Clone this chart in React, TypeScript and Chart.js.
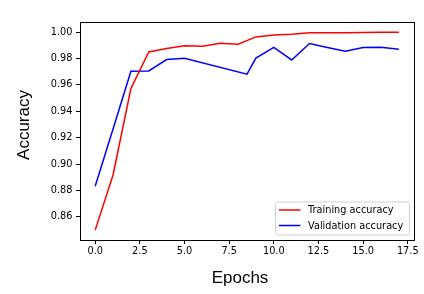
import { useEffect, useRef } from 'react';
import { Chart, registerables } from 'chart.js';

Chart.register(...registerables);

const epochs = [0, 1, 2, 3, 4, 5, 6, 7, 8, 9, 10, 11, 12, 13, 14, 15, 16, 17];
const trainAcc = [0.8499, 0.8917, 0.9572, 0.985, 0.9876, 0.9896, 0.9894, 0.9916, 0.9909, 0.9964, 0.9979, 0.9984, 0.9995, 0.9995, 0.9996, 0.9998, 0.9999, 0.9999];
const valEpochs = [0, 1, 2, 3, 4, 5, 8.5, 9, 10, 11, 12, 13, 14, 15, 16, 17];
const valAcc = [0.8831, 0.9266, 0.9704, 0.9706, 0.9792, 0.9802, 0.9681, 0.9803, 0.9884, 0.9789, 0.9914, 0.9884, 0.9855, 0.9884, 0.9886, 0.9871];
const xTicks = [0, 2.5, 5, 7.5, 10, 12.5, 15, 17.5];
const yTicks = [0.86, 0.88, 0.9, 0.92, 0.94, 0.96, 0.98, 1.0];
const seriesLabels = ['Training accuracy', 'Validation accuracy'];
const seriesColors = ['#ff0000', '#0000ff'];
const xTitle = 'Epochs';
const yTitle = 'Accuracy';

const TICK_FONT = { family: 'DejaVu Sans', size: 9.75 };

const decorPlugin = {
  id: 'decor',
  afterDatasetsDraw(chart: any) {
    const { ctx, chartArea: a } = chart;
    ctx.save();
    // frame
    ctx.strokeStyle = '#000';
    ctx.lineWidth = 1;
    ctx.strokeRect(a.left + 0.5, a.top + 0.5, a.right - a.left, a.bottom - a.top);

    // legend
    const bw = 134, bh = 33;
    const bx = a.right - 138.5, by = a.bottom - 38;
    const r = 2.5;
    ctx.beginPath();
    ctx.moveTo(bx + r, by);
    ctx.lineTo(bx + bw - r, by);
    ctx.quadraticCurveTo(bx + bw, by, bx + bw, by + r);
    ctx.lineTo(bx + bw, by + bh - r);
    ctx.quadraticCurveTo(bx + bw, by + bh, bx + bw - r, by + bh);
    ctx.lineTo(bx + r, by + bh);
    ctx.quadraticCurveTo(bx, by + bh, bx, by + bh - r);
    ctx.lineTo(bx, by + r);
    ctx.quadraticCurveTo(bx, by, bx + r, by);
    ctx.closePath();
    ctx.fillStyle = 'rgba(255,255,255,0.8)';
    ctx.fill();
    ctx.strokeStyle = '#d0d0d0';
    ctx.lineWidth = 1;
    ctx.stroke();

    ctx.font = `${TICK_FONT.size}px ${TICK_FONT.family}`;
    ctx.textBaseline = 'middle';
    ctx.textAlign = 'left';
    seriesLabels.forEach((lab, i) => {
      const ly = by + 8 + i * 15.5;
      ctx.strokeStyle = seriesColors[i];
      ctx.lineWidth = 1.5;
      ctx.beginPath();
      ctx.moveTo(bx + 3.5, ly);
      ctx.lineTo(bx + 25, ly);
      ctx.stroke();
      ctx.fillStyle = '#000';
      ctx.fillText(lab, bx + 32.5, ly + 0.5);
    });

    // axis titles
    ctx.fillStyle = '#000';
    ctx.font = '17px "Liberation Sans"';
    ctx.textAlign = 'center';
    ctx.textBaseline = 'alphabetic';
    ctx.fillText(xTitle, 240, 283);
    ctx.translate(29, 125);
    ctx.rotate(-Math.PI / 2);
    ctx.fillText(yTitle, 0, 0);
    ctx.restore();
  },
};

export default function App() {
  const ref = useRef<HTMLCanvasElement>(null);
  useEffect(() => {
    document.body.style.margin = '0';
    const chart = new Chart(ref.current!, {
      type: 'line',
      data: {
        datasets: [
          {
            label: seriesLabels[0],
            data: epochs.map((e, i) => ({ x: e, y: trainAcc[i] })),
            borderColor: seriesColors[0],
            borderWidth: 1.5,
            pointRadius: 0,
            tension: 0,
            fill: false,
          },
          {
            label: seriesLabels[1],
            data: valEpochs.map((e, i) => ({ x: e, y: valAcc[i] })),
            borderColor: seriesColors[1],
            borderWidth: 1.5,
            pointRadius: 0,
            tension: 0,
            fill: false,
          },
        ],
      },
      options: {
        responsive: false,
        animation: false,
        layout: { padding: { left: 0, top: 22, right: 10, bottom: 0 } },
        plugins: { legend: { display: false }, tooltip: { enabled: false } },
        scales: {
          x: {
            type: 'linear',
            min: -0.85,
            max: 17.85,
            afterFit: (s: any) => { s.height = 54; },
            afterBuildTicks: (s: any) => { s.ticks = xTicks.map((v) => ({ value: v })); },
            ticks: {
              font: TICK_FONT,
              color: '#000',
              padding: 2,
              maxRotation: 0,
              autoSkip: false,
              callback: (v: any) => Number(v).toFixed(1),
            },
            grid: { drawOnChartArea: false, drawTicks: true, tickLength: 4, color: '#000', lineWidth: 1 },
            border: { display: false },
          },
          y: {
            type: 'linear',
            min: 0.8424,
            max: 1.0077,
            afterFit: (s: any) => { s.width = 80; },
            afterBuildTicks: (s: any) => { s.ticks = yTicks.map((v) => ({ value: v })); },
            ticks: {
              font: TICK_FONT,
              color: '#000',
              padding: 3.5,
              autoSkip: false,
              callback: (v: any) => Number(v).toFixed(2),
            },
            grid: { drawOnChartArea: false, drawTicks: true, tickLength: 4, color: '#000', lineWidth: 1 },
            border: { display: false },
          },
        },
      },
      plugins: [decorPlugin],
    });
    return () => chart.destroy();
  }, []);
  return (
    <div style={{ width: 424, height: 294, background: '#fff' }}>
      <canvas ref={ref} width={424} height={294} style={{ display: 'block' }} />
    </div>
  );
}
